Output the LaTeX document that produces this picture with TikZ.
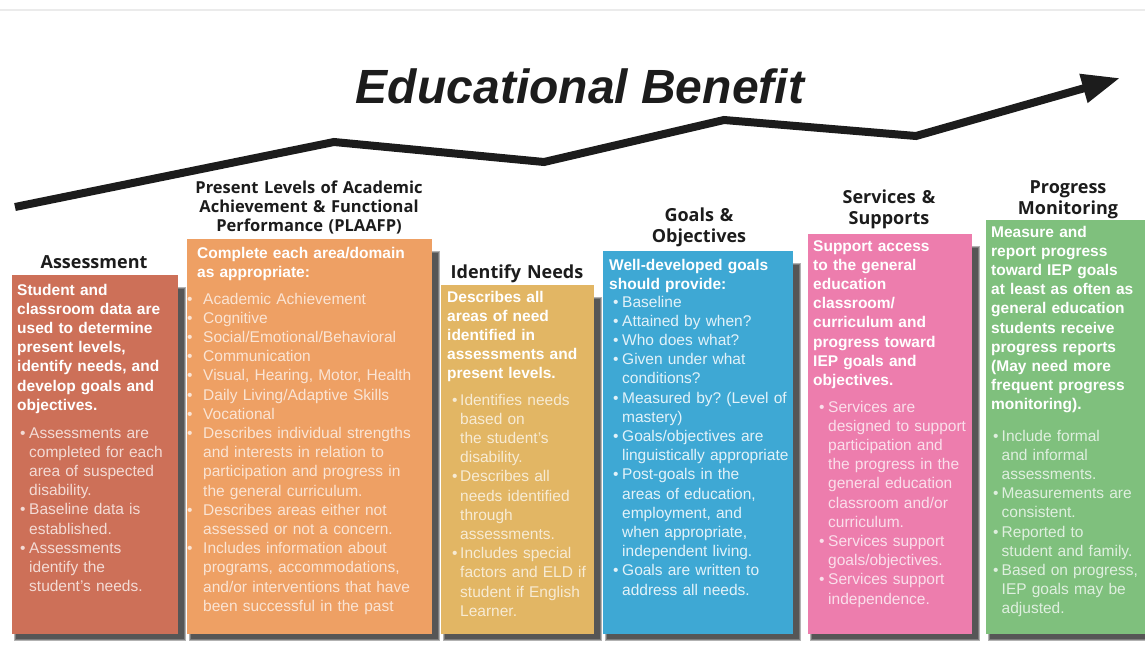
\documentclass[tikz,border=0pt]{standalone}
\usepackage{fontspec}
\setmainfont{Liberation Sans}
\newfontfamily\headfont{Open Sans}
\frenchspacing
\usetikzlibrary{arrows.meta}
\definecolor{assessC}{RGB}{205,112,88}
\definecolor{plaafpC}{RGB}{238,160,100}
\definecolor{needsC}{RGB}{226,182,100}
\definecolor{goalsC}{RGB}{62,168,212}
\definecolor{servC}{RGB}{237,125,173}
\definecolor{progC}{RGB}{127,192,125}
\definecolor{inkC}{RGB}{28,28,28}
\newlength{\bw}
\tikzset{
  trend/.style={draw=inkC,line width=8pt,line join=miter,
    -{Triangle[length=38pt,width=28pt]}},
  titletext/.style={font=\bfseries\itshape\fontsize{48}{52}\selectfont,text=inkC,anchor=base,inner sep=0pt},
  headtext/.style={font=\headfont\bfseries\fontsize{18}{21}\selectfont,text=inkC,
    align=center,text width=260pt,inner sep=0pt,anchor=base},
  leadtext/.style={font=\bfseries\fontsize{15.5}{19.2}\selectfont,text=white,
    align=left,text width=250pt,inner sep=0pt,anchor=base west},
  itemtext/.style={font=\fontsize{15.5}{19.2}\selectfont,
    align=left,text width=250pt,inner sep=0pt,anchor=base west},
  bulletw/.code={\setlength{\bw}{#1}},
}
% bullet line / continuation line
\newcommand{\bl}[1]{\makebox[\bw][l]{\textbullet}#1}
\newcommand{\cl}[1]{\hspace*{\bw}#1}
% coloured panel with a soft shadow: x1 y1 x2 y2 colour
\newcommand{\panel}[5]{%
  \foreach \s in {2,1,0}{%
    \fill[black,opacity=.3] ({#1+4-\s},{#2+14-\s}) rectangle ({#3+6+\s},{#4+5+\s});}
  \fill[#5] (#1,#2) rectangle (#3,#4);}

\begin{document}
\begin{tikzpicture}[x=1pt,y=-1pt]
  \fill[white] (0,0) rectangle (1145,645);
  \useasboundingbox (0,0) rectangle (1145,645);
  \draw[black!8,line width=2pt] (0,10) -- (1145,10);

  % rising line
  \coordinate (a0) at (15,207);
  \coordinate (a1) at (334,142);
  \coordinate (a2) at (544,162);
  \coordinate (a3) at (724,120);
  \coordinate (a4) at (916,136);
  \coordinate (a5) at (1120,78);
  \draw[trend] (a0) -- (a1) -- (a2) -- (a3) -- (a4) -- (a5);
  \node[titletext] (title) at (580,103) {Educational Benefit};

  \panel{12}{275}{178}{634}{assessC}
  \panel{187}{239}{432}{634}{plaafpC}
  \panel{441}{285}{594}{634}{needsC}
  \panel{603}{251}{793}{634}{goalsC}
  \panel{808}{234}{972}{634}{servC}
  \panel{986}{220}{1150}{634}{progC}

  % Assessment
  \node[headtext] (assessHead) at (94,268) {Assessment};
  \node[leadtext] (assessLead) at (17,295) {Student and\\classroom data are\\used to determine\\present levels,\\identify needs, and\\develop goals and\\objectives.};
  \node[itemtext,bulletw=9pt,text=white!75!assessC] (assessList) at (20,438)
    {\bl{Assessments are}\\\cl{completed for each}\\\cl{area of suspected}\\\cl{disability.}\\
     \bl{Baseline data is}\\\cl{established.}\\\bl{Assessments}\\\cl{identify the}\\\cl{student's needs.}};

  % PLAAFP
  \node[headtext,font=\headfont\bfseries\fontsize{16.5}{19}\selectfont] (plaafpHead) at (309,193)
    {Present Levels of Academic\\Achievement \& Functional\\Performance (PLAAFP)};
  \node[leadtext] (plaafpLead) at (197,258) {Complete each area/domain\\as appropriate:};
  \node[itemtext,bulletw=16pt,text=white!72!plaafpC] (plaafpList) at (187,304)
    {\bl{Academic Achievement}\\\bl{Cognitive}\\\bl{Social/Emotional/Behavioral}\\\bl{Communication}\\
     \bl{Visual, Hearing, Motor, Health}\\\bl{Daily Living/Adaptive Skills}\\\bl{Vocational}\\
     \bl{Describes individual strengths}\\\cl{and interests in relation to}\\\cl{participation and progress in}\\\cl{the general curriculum.}\\
     \bl{Describes areas either not}\\\cl{assessed or not a concern.}\\
     \bl{Includes information about}\\\cl{programs, accommodations,}\\\cl{and/or interventions that have}\\\cl{been successful in the past}};

  % Identify Needs
  \node[headtext] (needsHead) at (517,278) {Identify Needs};
  \node[leadtext] (needsLead) at (447,302) {Describes all\\areas of need\\identified in\\assessments and\\present levels.};
  \node[itemtext,bulletw=8pt,text=white!72!needsC] (needsList) at (452,405)
    {\bl{Identifies needs}\\\cl{based on}\\\cl{the student's}\\\cl{disability.}\\
     \bl{Describes all}\\\cl{needs identified}\\\cl{through}\\\cl{assessments.}\\
     \bl{Includes special}\\\cl{factors and ELD if}\\\cl{student if English}\\\cl{Learner.}};

  % Goals & Objectives
  \node[headtext] (goalsHead) at (699,221) {Goals \&\\Objectives};
  \node[leadtext] (goalsLead) at (609,270) {Well-developed goals\\should provide:};
  \node[itemtext,bulletw=9pt,text=white!85!goalsC] (goalsList) at (613,307)
    {\bl{Baseline}\\\bl{Attained by when?}\\\bl{Who does what?}\\\bl{Given under what}\\\cl{conditions?}\\
     \bl{Measured by? (Level of}\\\cl{mastery)}\\\bl{Goals/objectives are}\\\cl{linguistically appropriate}\\
     \bl{Post-goals in the}\\\cl{areas of education,}\\\cl{employment, and}\\\cl{when appropriate,}\\\cl{independent living.}\\
     \bl{Goals are written to}\\\cl{address all needs.}};

  % Services & Supports
  \node[headtext] (servHead) at (889,203) {Services \&\\Supports};
  \node[leadtext] (servLead) at (813,251) {Support access\\to the general\\education\\classroom/\\curriculum and\\progress toward\\IEP goals and\\objectives.};
  \node[itemtext,bulletw=9pt,text=white!75!servC] (servList) at (819,412)
    {\bl{Services are}\\\cl{designed to support}\\\cl{participation and}\\\cl{the progress in the}\\\cl{general education}\\\cl{classroom and/or}\\\cl{curriculum.}\\
     \bl{Services support}\\\cl{goals/objectives.}\\\bl{Services support}\\\cl{independence.}};

  % Progress Monitoring
  \node[headtext] (progHead) at (1068,193) {Progress\\Monitoring};
  \node[leadtext] (progLead) at (991,237) {Measure and\\report progress\\toward IEP goals\\at least as often as\\general education\\students receive\\progress reports\\(May need more\\frequent progress\\monitoring).};
  \node[itemtext,bulletw=8.5pt,text=white!75!progC] (progList) at (993,441)
    {\bl{Include formal}\\\cl{and informal}\\\cl{assessments.}\\\bl{Measurements are}\\\cl{consistent.}\\
     \bl{Reported to}\\\cl{student and family.}\\\bl{Based on progress,}\\\cl{IEP goals may be}\\\cl{adjusted.}};
\end{tikzpicture}
\end{document}
